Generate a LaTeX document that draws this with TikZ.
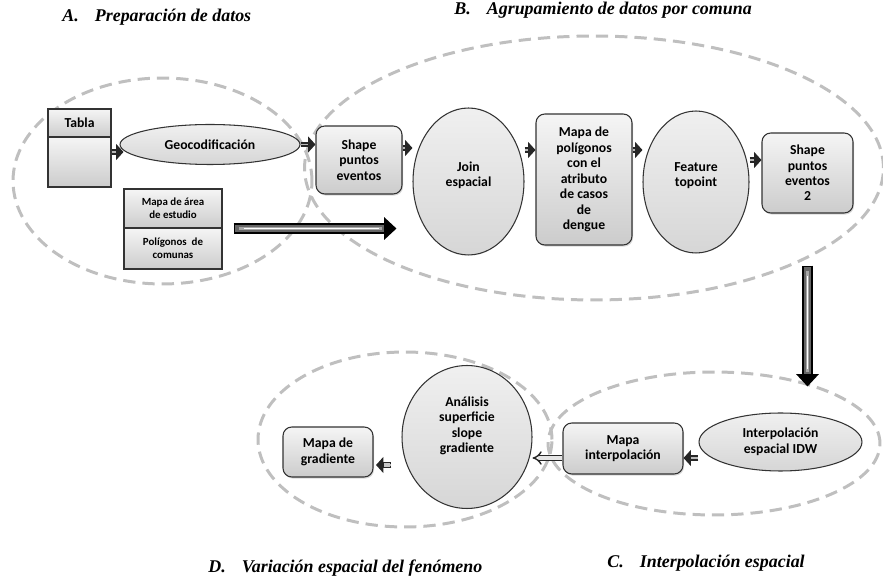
\documentclass[tikz,border=0pt]{standalone}
\usepackage{fontspec}
\setsansfont{Carlito}
\newfontfamily\ttlfont{Liberation Serif}
\usetikzlibrary{shapes.geometric,arrows.meta,shadows}

\begin{document}
\begin{tikzpicture}[
	x=0.02cm,y=-0.02cm,
	tnode/.style={rectangle,draw=black!80,line width=0.6pt,top color=gray!8,bottom color=gray!40,align=center,inner sep=1pt,font=\sffamily\bfseries\fontsize{6.2}{7.4}\selectfont},
	rnode/.style={tnode,rounded corners=5pt,font=\sffamily\bfseries\fontsize{7.8}{8.8}\selectfont,drop shadow={opacity=0.3,shadow xshift=0.6pt,shadow yshift=-0.9pt}},
	enode/.style={ellipse,draw=black!80,line width=0.6pt,top color=gray!12,bottom color=gray!32,align=center,inner sep=0pt,font=\sffamily\bfseries\fontsize{7.8}{8.8}\selectfont},
	gnode/.style={ellipse,draw=gray!50,line width=1.7pt,dash pattern=on 7pt off 4pt},
	flow/.style={draw=black!85,line width=3.3pt,-{Triangle[length=4.2pt,width=9pt]},postaction={draw=gray!55,line width=1.1pt,shorten >=4.4pt,shorten <=0.5pt,-}},
	oflow/.style={flow,postaction={draw=gray!45,line width=1.8pt,shorten >=4.6pt,shorten <=0.6pt,-}},
	dflow/.style={draw=black!85,line width=0.8pt,double=gray!20,double distance=1.8pt,-Implies},
	bigflow/.style={draw=black,line width=6pt,-{Triangle[length=7pt,width=12.5pt]},postaction={draw=black!60,line width=3.8pt,shorten >=7pt,shorten <=1pt,-},postaction={draw=gray!70,line width=2.2pt,shorten >=8pt,shorten <=3pt,-},postaction={draw=white,line width=0.7pt,shorten >=10pt,shorten <=6pt,-}},
	ttl/.style={anchor=west,inner sep=0pt,font=\ttlfont\bfseries\itshape\fontsize{10.2}{12}\selectfont}
	]
	\useasboundingbox (0,0) rectangle (883,577);
	% grupos
	\node[gnode,minimum width=5.98cm,minimum height=4.12cm] (grpA) at (162.5,181) {};
	\node[gnode,minimum width=11.58cm,minimum height=5.28cm] (grpB) at (594,168) {};
	\node[gnode,minimum width=5.88cm,minimum height=3.5cm] (grpD) at (405,439.5) {};
	\node[gnode,minimum width=6.64cm,minimum height=2.86cm] (grpC) at (714,443.5) {};
	% titulos
	\node[ttl] (ttlA) at (62,17) {A.\hspace{0.9em}Preparación de datos};
	\node[ttl] (ttlB) at (454,10) {B.\hspace{0.9em}Agrupamiento de datos por comuna};
	\node[ttl] (ttlD) at (208,568) {D.\hspace{0.9em}Variación espacial del fenómeno};
	\node[ttl] (ttlC) at (607,563) {C.\hspace{0.9em}Interpolación espacial};
	% A. preparacion
	\node[tnode,minimum width=1.26cm,minimum height=0.56cm,font=\sffamily\bfseries\fontsize{7.8}{8.8}\selectfont] (tabla) at (79.5,123) {Tabla};
	\node[tnode,minimum width=1.26cm,minimum height=1.0cm] (tablab) at (79.5,162) {};
	\node[enode,minimum width=3.6cm,minimum height=0.8cm] (geo) at (210,144.5) {Geocodificación};
	\node[tnode,minimum width=1.96cm,minimum height=0.78cm] (area) at (173,208.5) {Mapa de área\\de estudio};
	\node[tnode,minimum width=1.96cm,minimum height=0.82cm] (poli) at (173,248.5) {Polígonos\ \ de\\comunas};
	% B. agrupamiento
	\node[rnode,minimum width=1.72cm,minimum height=1.36cm] (shp) at (359,160) {Shape\\puntos\\eventos};
	\node[enode,minimum width=2.22cm,minimum height=2.94cm,text depth=0.3cm] (join) at (468.5,181.5) {Join\\espacial};
	\node[rnode,minimum width=1.92cm,minimum height=2.62cm] (mpol) at (584,179.5) {Mapa de\\polígonos\\con el\\atributo\\de casos\\de\\dengue};
	\node[enode,minimum width=2.12cm,minimum height=2.84cm,text depth=0.3cm] (feat) at (696,182) {Feature\\topoint};
	\node[rnode,minimum width=1.82cm,minimum height=1.6cm] (shp2) at (807.5,173) {Shape\\puntos\\eventos\\2};
	% C. interpolacion
	\node[enode,minimum width=3.26cm,minimum height=1.16cm] (idw) at (780.5,442) {Interpolación\\espacial IDW};
	\node[rnode,minimum width=2.4cm,minimum height=1.02cm] (mint) at (623,448.5) {Mapa\\interpolación};
	% D. variacion
	\node[enode,minimum width=2.6cm,minimum height=2.86cm,text depth=0.5cm] (anl) at (467,437) {Análisis\\superficie\\slope\\gradiente};
	\node[rnode,minimum width=1.8cm,minimum height=1.0cm] (grad) at (328,452) {Mapa de\\gradiente};
	% flechas
	\foreach \a/\b/\dy/\dx in {tablab/geo/0.2/0.08,geo/shp/0/0,shp/join/0.24/0,join/mpol/0.63/0,mpol/feat/0.59/0,feat/shp2/0.44/0}{
		\draw[flow] ([yshift=\dy cm]\a.east) -- ([xshift=\dx cm,yshift=\dy cm]\a.east -| \b.west);
	}
	\draw[flow] ([yshift=-0.32cm]idw.west) -- ([yshift=-0.32cm]idw.west -| mint.east);
	\draw[dflow] ([yshift=-0.19cm]mint.west) -- ([yshift=-0.19cm]mint.west -| anl.east);
	\draw[oflow] ([xshift=-0.2cm,yshift=-0.56cm]anl.west) -- ([xshift=0.05cm,yshift=-0.56cm]anl.west -| grad.east);
	\coordinate (bigA) at ([xshift=0.22cm]area.south east);
	\draw[bigflow] (bigA) -- ([xshift=-0.32cm]bigA -| join.west);
	\coordinate (bigB) at ([yshift=-1.04cm]shp2.south);
	\draw[bigflow] (bigB) -- ([yshift=0.52cm]bigB |- idw.north);
\end{tikzpicture}
\end{document}
